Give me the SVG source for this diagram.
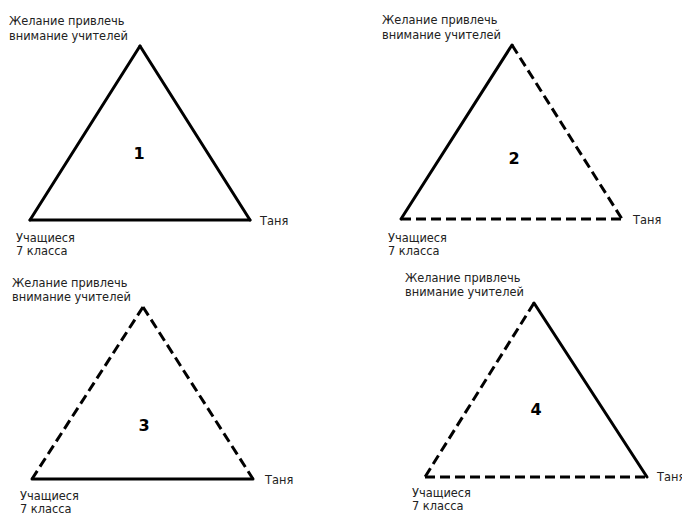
<svg xmlns="http://www.w3.org/2000/svg" width="682" height="514" viewBox="0 0 682 514">
<style>
.lbl{font-family:"DejaVu Sans",Verdana,sans-serif;font-size:11.4px;fill:#222}
.num{font-family:"DejaVu Sans",Verdana,sans-serif;font-size:16px;font-weight:bold;fill:#000;text-anchor:middle}
.s{stroke:#000;stroke-width:3;fill:none;stroke-linecap:round}
.d{stroke:#000;stroke-width:3;fill:none;stroke-dasharray:10 5}
</style>
<rect width="682" height="514" fill="#fff"/>
<g id="connectors">
<line class="s" x1="140" y1="46" x2="30" y2="220"/>
<line class="s" x1="140" y1="46" x2="250" y2="220"/>
<line class="s" x1="30" y1="220" x2="250" y2="220"/>
<line class="s" x1="512" y1="45" x2="401" y2="219"/>
<line class="d" x1="512" y1="45" x2="622" y2="219"/>
<line class="d" x1="401" y1="219" x2="622" y2="219"/>
<line class="d" x1="143" y1="307" x2="32" y2="479"/>
<line class="d" x1="143" y1="307" x2="253" y2="479"/>
<line class="s" x1="32" y1="479" x2="253" y2="479"/>
<line class="d" x1="534" y1="303" x2="425" y2="477"/>
<line class="s" x1="534" y1="303" x2="647" y2="477"/>
<line class="d" x1="425" y1="477" x2="647" y2="477"/>
</g>
<g id="tri1">
<text class="num" x="139" y="159">1</text>
<text class="lbl" x="9" y="25">Желание привлечь</text>
<text class="lbl" x="9" y="40">внимание учителей</text>
<text class="lbl" x="260" y="225">Таня</text>
<text class="lbl" x="16" y="242">Учащиеся</text>
<text class="lbl" x="16" y="255">7 класса</text>
</g>
<g id="tri2">
<text class="num" x="514" y="164">2</text>
<text class="lbl" x="382" y="24">Желание привлечь</text>
<text class="lbl" x="382" y="39">внимание учителей</text>
<text class="lbl" x="633" y="224">Таня</text>
<text class="lbl" x="388" y="242">Учащиеся</text>
<text class="lbl" x="388" y="255">7 класса</text>
</g>
<g id="tri3">
<text class="num" x="144" y="431">3</text>
<text class="lbl" x="12" y="287">Желание привлечь</text>
<text class="lbl" x="12" y="301">внимание учителей</text>
<text class="lbl" x="265" y="484">Таня</text>
<text class="lbl" x="20" y="500">Учащиеся</text>
<text class="lbl" x="20" y="513">7 класса</text>
</g>
<g id="tri4">
<text class="num" x="536" y="415">4</text>
<text class="lbl" x="405" y="282">Желание привлечь</text>
<text class="lbl" x="405" y="296">внимание учителей</text>
<text class="lbl" x="657" y="481">Таня</text>
<text class="lbl" x="412" y="497">Учащиеся</text>
<text class="lbl" x="412" y="510">7 класса</text>
</g>
</svg>
